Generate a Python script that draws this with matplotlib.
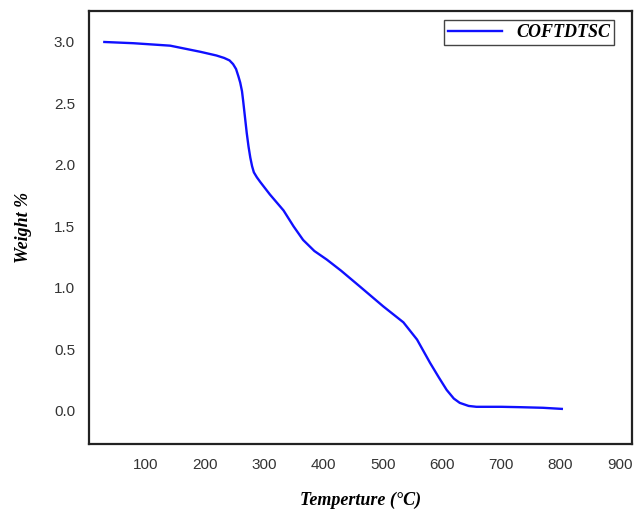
import matplotlib.pyplot as plt

# TGA curve
temp = [31, 80, 142, 193, 220, 233, 242, 248, 253, 257, 260, 263, 265, 268, 271,
        274, 277, 280, 283, 288, 294, 310, 333, 350, 366, 385, 406, 430, 462, 501,
        535, 558, 580, 595, 608, 620, 630, 645, 658, 700, 731, 770, 802]
weight = [3.0, 2.99, 2.97, 2.92, 2.89, 2.87, 2.85, 2.82, 2.78, 2.72, 2.67, 2.60, 2.52,
          2.39, 2.26, 2.15, 2.06, 1.99, 1.94, 1.90, 1.86, 1.76, 1.63, 1.50, 1.39,
          1.30, 1.23, 1.14, 1.01, 0.85, 0.72, 0.58, 0.39, 0.27, 0.17, 0.10, 0.065,
          0.04, 0.033, 0.033, 0.03, 0.025, 0.016]
series_name = "COFTDTSC"
xticks = [100, 200, 300, 400, 500, 600, 700, 800, 900]
yticks = [0.0, 0.5, 1.0, 1.5, 2.0, 2.5, 3.0]

fig = plt.figure(figsize=(6.35, 5.11), dpi=100)
ax = fig.add_axes([0.140, 0.131, 0.855, 0.847])

ax.plot(temp, weight, color='#1010ff', linewidth=1.7, label=series_name)

ax.set_xlim(5, 920)
ax.set_ylim(-0.27, 3.25)
ax.set_xticks(xticks)
ax.set_yticks(yticks)
ax.set_yticklabels(["%.1f" % v for v in yticks])
ax.tick_params(length=0, pad=10, labelsize=11, labelcolor='#333333')
for lab in ax.get_xticklabels() + ax.get_yticklabels():
    lab.set_family('Liberation Sans')

for sp in ax.spines.values():
    sp.set_linewidth(1.6)
    sp.set_color('#222222')

ax.set_xlabel("Temperture (°C)", family='Liberation Serif', fontsize=13,
              fontweight='bold', fontstyle='italic')
ax.set_ylabel("Weight %", family='Liberation Serif', fontsize=13,
              fontweight='bold', fontstyle='italic')
ax.xaxis.set_label_coords(0.5, -0.11)
ax.yaxis.set_label_coords(-0.105, 0.5)

leg = ax.legend(loc='upper right', fancybox=False, framealpha=1, edgecolor='#444444',
                prop={'family': 'Liberation Serif', 'size': 13, 'weight': 'bold',
                      'style': 'italic'},
                handlelength=3, borderpad=0.2, borderaxespad=0,
                bbox_to_anchor=(0.967, 0.979))
leg.get_frame().set_linewidth(1.0)

fig.savefig("out.png", dpi=100)
